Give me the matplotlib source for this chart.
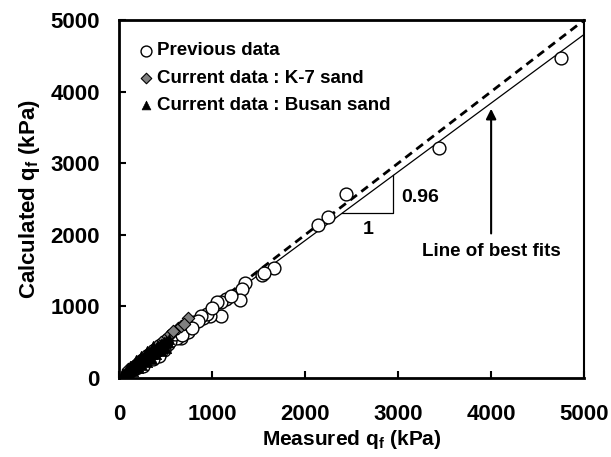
import matplotlib.pyplot as plt
import numpy as np

plt.rcParams['font.family'] = ['Liberation Sans', 'DejaVu Sans']
plt.rcParams['font.weight'] = 'bold'
plt.rcParams['mathtext.fontset'] = 'custom'
plt.rcParams['mathtext.bf'] = 'Liberation Sans:bold'
plt.rcParams['mathtext.rm'] = 'Liberation Sans:bold'

# Previous data (open circles)
prev_meas = [4750, 3440, 2440, 2250, 2140, 1660, 1540, 1560, 1350, 1320, 1300, 1150,
             1100, 1090, 1050, 980, 900, 950, 880, 800, 740, 660, 570, 620, 520, 480,
             450, 420, 380, 350, 320, 300, 280, 250, 230, 200, 180, 150, 120, 100, 80,
             400, 550, 700, 850, 1000, 1200, 600, 500, 330, 430, 360, 260, 680, 780]
prev_calc = [4470, 3215, 2570, 2250, 2140, 1530, 1440, 1470, 1330, 1240, 1090, 1100,
             1060, 860, 1060, 860, 840, 900, 870, 780, 640, 560, 600, 560, 470, 390,
             380, 390, 330, 310, 300, 250, 230, 200, 210, 170, 140, 120, 90, 70, 50,
             350, 520, 680, 800, 980, 1150, 620, 500, 280, 300, 260, 170, 600, 700]

# Current data : K-7 sand (grey diamonds)
k7_meas = [742, 634, 560, 520, 480, 450, 420, 380, 350, 300, 250, 200, 150, 100,
           580, 660, 700, 400, 330, 270]
k7_calc = [838, 698, 620, 580, 530, 500, 460, 420, 380, 330, 280, 230, 170, 120,
           650, 720, 760, 450, 370, 300]

# Current data : Busan sand (black triangles)
bs_meas = [50, 70, 90, 100, 120, 140, 150, 170, 180, 200, 220, 250, 270, 290, 300,
           320, 350, 370, 400, 420, 450, 480, 500, 60, 80, 110, 130, 160, 190, 210,
           240, 260, 280, 310, 330, 360, 380, 410, 440, 460, 200, 250, 300, 350, 400,
           450, 520, 540, 30, 40, 100, 150, 200, 250, 300, 350, 400, 450, 500,
           80, 120, 180, 240, 300, 360]
bs_calc = [60, 80, 100, 130, 140, 150, 180, 200, 220, 230, 250, 270, 300, 320, 340,
           360, 380, 400, 420, 440, 470, 500, 520, 40, 90, 110, 160, 170, 210, 240,
           260, 280, 310, 330, 350, 390, 410, 430, 460, 480, 170, 230, 290, 330, 380,
           420, 500, 540, 30, 50, 60, 100, 140, 180, 220, 270, 330, 380, 420,
           120, 170, 250, 310, 380, 440]

slope = 0.96
line_x = np.array([0, 5000])

fig = plt.figure(figsize=(6.11, 4.57), dpi=100)
ax = fig.add_axes([0.195, 0.173, 0.761, 0.783])

ax.plot(line_x, line_x, 'k--', lw=2, dashes=(3, 2), zorder=1)
ax.plot(line_x, slope * line_x, 'k-', lw=0.9, zorder=1)

ax.scatter(prev_meas, prev_calc, s=85, facecolors='white', edgecolors='black',
           linewidths=1, zorder=2, label='Previous data')
ax.scatter(k7_meas, k7_calc, marker='D', s=40, facecolors='#808080', edgecolors='black',
           linewidths=0.8, zorder=3, label='Current data : K-7 sand')
ax.scatter(bs_meas, bs_calc, marker='^', s=55, facecolors='black', edgecolors='black',
           linewidths=0.5, zorder=4, label='Current data : Busan sand')

# slope triangle
ax.plot([2400, 2950, 2950], [2304, 2304, 2950 * slope], 'k-', lw=0.9)
ax.text(2680, 2080, '1', ha='center', va='center', fontsize=14, fontweight='bold')
ax.text(3030, 2520, '0.96', ha='left', va='center', fontsize=14, fontweight='bold')

# arrow
ax.annotate('', xy=(4000, 3800), xytext=(4000, 1980),
            arrowprops=dict(arrowstyle='-|>', color='black', lw=1.5, mutation_scale=15))
ax.text(4000, 1770, 'Line of best fits', ha='center', va='center', fontsize=13.5,
        fontweight='bold')

ax.set_xlim(0, 5000)
ax.set_ylim(0, 5000)
ax.set_xticks(range(0, 5001, 1000))
ax.set_yticks(range(0, 5001, 1000))
ax.tick_params(direction='in', length=5, width=1.5, labelsize=16,
               top=False, right=False)
ax.tick_params(axis='x', pad=19)
ax.tick_params(axis='y', pad=14)
for lab in ax.get_xticklabels() + ax.get_yticklabels():
    lab.set_fontweight('bold')
for sp in ax.spines.values():
    sp.set_linewidth(2)
ax.spines['right'].set_linewidth(1.5)

ax.set_xlabel(r'Measured q$_\mathbf{f}$ (kPa)', fontsize=15, fontweight='bold', labelpad=2)
ax.set_ylabel(r'Calculated q$_\mathbf{f}$ (kPa)', fontsize=16, fontweight='bold', labelpad=6)

leg = ax.legend(loc='upper left', frameon=False, handletextpad=0.0, borderaxespad=0.5,
                labelspacing=0.55, prop={'weight': 'bold', 'size': 13.5},
                handlelength=1.1, markerscale=0.85, bbox_to_anchor=(0.0, 0.985))

fig.savefig('out.png', dpi=100)
